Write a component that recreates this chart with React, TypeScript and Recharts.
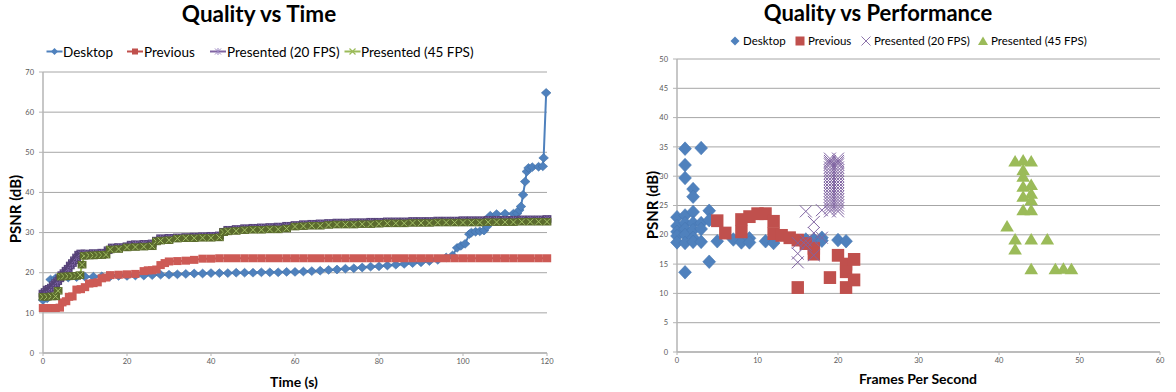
import React from 'react';
import { LineChart, Line, XAxis, YAxis, CartesianGrid, ScatterChart, Scatter } from 'recharts';

const FONT = 'Lato, "Open Sans", Arial, sans-serif';
const BLUE = '#4F81BD';
const RED = '#C0504D';
const PURPLE = '#8064A2';
const GREEN = '#9BBB59';
const TICK = '#595959';
const GRID = '#a6a6a6';
const AXIS = '#b4b4b4';

const seriesNames = ['Desktop', 'Previous', 'Presented (20 FPS)', 'Presented (45 FPS)'];

// ---- Quality vs Time ----
const timeTicks = [0, 20, 40, 60, 80, 100, 120];
const timePsnrTicks = [0, 10, 20, 30, 40, 50, 60, 70];

const desktopTime = [
  0, 1, 1.8, 3, 4, 6, 8, 10, 12, 14, 16, 18, 20, 22, 24, 26, 28, 30, 32, 34, 36, 38, 40, 42, 44,
  46, 48, 50, 52, 54, 56, 58, 60, 62, 64, 66, 68, 70, 72, 74, 76, 78, 80, 82, 84, 86, 88, 90, 92,
  94, 96, 97.5, 98.6, 99.5, 100.5, 101.5, 102, 103, 104, 105, 105.7, 106.5, 108, 110, 112, 112.9,
  113.4, 113.8, 114.3, 114.8, 115.2, 115.6, 116.5, 118, 119, 119.2, 119.8,
];
const desktopPsnr = [
  13.2, 13.6, 18.3, 18.6, 18.7, 18.8, 18.9, 19.0, 19.0, 19.1, 19.1, 19.2, 19.2, 19.3, 19.3, 19.4,
  19.5, 19.5, 19.6, 19.7, 19.8, 19.8, 19.9, 19.9, 19.9, 20.0, 20.0, 20.0, 20.1, 20.1, 20.1, 20.2,
  20.2, 20.3, 20.4, 20.5, 20.7, 20.8, 21.0, 21.1, 21.3, 21.5, 21.6, 21.8, 22.0, 22.2, 22.4, 22.6,
  22.9, 23.2, 23.8, 24.3, 26.2, 26.7, 27.2, 29.6, 30.0, 30.2, 30.3, 30.5, 31.5, 34.2, 34.6, 34.7,
  34.7, 34.8, 35.6, 36.5, 39.4, 42.7, 45.2, 46.1, 46.3, 46.4, 46.5, 48.6, 64.8,
];

const previousTime = [
  0, 1, 2, 3, 4, 4.6, 5.5, 6.2, 7, 8, 9, 10, 11, 12, 13, 14, 15, 16, 18, 20, 22, 24, 25, 26, 27,
  28, 29, 30, 32, 34, 36, 38, 40, 42, 44, 46, 48, 50, 52, 54, 56, 58, 60, 62, 64, 66, 68, 70, 72,
  74, 76, 78, 80, 82, 84, 86, 88, 90, 92, 94, 96, 98, 100, 102, 104, 106, 108, 110, 112, 114, 116,
  118, 120,
];
const previousPsnr = [
  11.2, 11.2, 11.2, 11.2, 11.3, 12.6, 12.9, 14.0, 14.1, 15.8, 15.9, 16.4, 17.3, 17.4, 17.6, 18.6,
  18.8, 19.4, 19.5, 19.6, 19.7, 20.4, 20.6, 20.6, 20.8, 21.9, 22.4, 22.8, 22.9, 23.0, 23.2, 23.5,
  23.5, 23.6, 23.6, 23.6, 23.6, 23.6, 23.6, 23.6, 23.6, 23.6, 23.6, 23.6, 23.6, 23.6, 23.6, 23.6,
  23.6, 23.6, 23.6, 23.6, 23.6, 23.6, 23.6, 23.6, 23.6, 23.6, 23.6, 23.6, 23.6, 23.6, 23.6, 23.6,
  23.6, 23.6, 23.6, 23.6, 23.6, 23.6, 23.6, 23.6, 23.6,
];

const fps20Time = [
  0, 0.5, 1, 1.5, 2, 2.5, 3, 3.5, 4, 4.5, 5, 5.5, 6, 6.5, 7, 7.5, 8, 8.5, 9, 10, 12, 14, 15.5, 16.5,
  18, 20, 21, 22, 24, 26, 27, 28, 30, 32, 34, 36, 38, 40, 42, 43, 44, 46, 48, 50, 52, 54, 56, 58,
  60, 62, 64, 66, 68, 70, 72, 74, 76, 78, 80, 82, 84, 86, 88, 90, 92, 94, 96, 98, 100, 102, 104,
  106, 108, 110, 112, 114, 116, 118, 120,
];
const fps20Psnr = [
  14.8, 15.2, 15.8, 16.0, 16.3, 16.9, 17.4, 17.9, 18.6, 19.4, 19.9, 20.5, 21.0, 21.8, 22.4, 23.1,
  23.8, 24.5, 24.8, 24.8, 24.9, 25.0, 25.6, 26.3, 26.4, 26.6, 27.0, 27.1, 27.2, 27.3, 28.0, 28.6,
  28.7, 28.8, 28.9, 29.0, 29.1, 29.2, 29.3, 30.2, 30.7, 30.9, 31.1, 31.2, 31.3, 31.4, 31.5, 31.7,
  31.9, 32.1, 32.2, 32.3, 32.4, 32.5, 32.5, 32.6, 32.6, 32.7, 32.7, 32.8, 32.8, 32.8, 32.9, 32.9,
  32.9, 33.0, 33.0, 33.0, 33.1, 33.1, 33.1, 33.2, 33.2, 33.2, 33.2, 33.3, 33.3, 33.3, 33.4,
];

const fps45Time = [
  0, 1, 2, 3, 3.6, 4.3, 5, 6, 7, 8, 8.8, 9.3, 9.8, 11, 12, 13, 14, 15, 16, 18, 20, 22, 24, 26, 27,
  28, 30, 32, 34, 36, 38, 40, 42, 43, 44, 46, 48, 50, 52, 54, 56, 58, 60, 62, 64, 66, 68, 70, 72,
  74, 76, 78, 80, 82, 84, 86, 88, 90, 92, 94, 96, 98, 100, 102, 104, 106, 108, 110, 112, 114, 116,
  118, 120,
];
const fps45Psnr = [
  14.0, 14.0, 14.1, 14.1, 15.5, 19.0, 19.1, 19.1, 19.2, 19.2, 19.4, 22.0, 24.2, 24.3, 24.3, 24.4,
  24.4, 24.5, 25.8, 25.9, 26.3, 26.4, 26.5, 26.6, 27.8, 28.0, 28.1, 28.5, 28.6, 28.6, 28.7, 28.7,
  28.8, 30.1, 30.3, 30.4, 30.6, 30.7, 30.7, 30.8, 30.8, 31.0, 31.5, 31.6, 31.7, 31.7, 31.9, 32.0,
  32.0, 32.0, 32.1, 32.1, 32.2, 32.3, 32.3, 32.3, 32.4, 32.4, 32.4, 32.5, 32.5, 32.5, 32.5, 32.5,
  32.5, 32.6, 32.6, 32.6, 32.6, 32.7, 32.7, 32.7, 32.7,
];

// ---- Quality vs Performance ----
const fpsTicks = [0, 10, 20, 30, 40, 50, 60];
const perfPsnrTicks = [0, 5, 10, 15, 20, 25, 30, 35, 40, 45, 50];

const desktopFps = [
  0, 0, 0, 0, 0, 1, 1, 1, 1, 1, 1, 1, 1, 1, 2, 2, 2, 2, 2, 2, 2, 3, 3, 3, 3, 4, 4, 4, 5, 7, 8, 9,
  9, 11, 12, 16, 17, 18, 18, 20, 21,
];
const desktopFpsPsnr = [
  23.0, 21.5, 20.5, 19.8, 18.7, 34.7, 31.9, 29.7, 23.3, 22.0, 21.0, 20.0, 18.6, 13.6, 27.8, 26.5,
  23.9, 22.0, 20.8, 19.5, 18.8, 34.8, 22.0, 21.0, 18.8, 24.1, 22.5, 15.4, 18.9, 19.2, 18.7, 19.4,
  18.7, 18.9, 18.6, 19.2, 19.2, 19.5, 19.0, 19.1, 18.9,
];

const previousFps = [5, 6, 8, 8, 9, 10, 11, 12, 12, 13, 14, 15, 15, 16, 17, 17, 19, 20, 21, 21, 21, 22, 22];
const previousFpsPsnr = [
  22.4, 20.3, 22.6, 20.5, 23.1, 23.6, 23.6, 22.3, 20.2, 19.9, 19.5, 19.1, 11.0, 18.5, 17.7, 16.7,
  12.7, 16.5, 15.0, 13.7, 11.0, 15.8, 12.3,
];

const fps20Fps = [
  19, 19, 19, 19, 19, 19, 19, 19, 19, 19, 19, 19, 19, 19, 19, 19, 19, 19, 19, 19,
  20, 20, 20, 20, 20, 20, 20, 20, 20, 20, 20, 20, 20, 20, 20, 20, 20, 20, 20, 20,
  15, 15, 15, 16, 16, 16, 17, 17, 17, 17, 18, 18,
];
const fps20FpsPsnr = [
  24, 24.5, 25, 25.5, 26, 26.5, 27, 27.5, 28, 28.5, 29, 29.5, 30, 30.5, 31, 31.5, 32, 32.3, 32.6, 33,
  24, 24.5, 25, 25.5, 26, 26.5, 27, 27.5, 28, 28.5, 29, 29.5, 30, 30.5, 31, 31.5, 32, 32.3, 32.6, 33,
  15.3, 16.8, 18.6, 24.0, 19.0, 18.3, 22.2, 20.3, 19.0, 16.5, 24.2, 19.5,
];

const fps45Fps = [42, 43, 44, 43, 43, 43, 44, 44, 43, 44, 43, 44, 41, 42, 42, 44, 46, 44, 47, 48, 49];
const fps45FpsPsnr = [
  32.5, 32.7, 32.5, 31.0, 29.9, 28.2, 28.5, 27.0, 26.5, 25.9, 24.2, 24.2, 21.4, 19.2, 17.5, 19.2,
  19.2, 14.1, 14.1, 14.2, 14.1,
];

const toPoints = (xs: number[], ys: number[]) => xs.map((x, i) => ({ x, y: ys[i] }));

const diamondPath = (cx: number, cy: number, rx: number, ry: number) =>
  `M${cx},${cy - ry}L${cx + rx},${cy}L${cx},${cy + ry}L${cx - rx},${cy}Z`;

// markers for the time chart
const timeDot = (kind: string) => (p: any) => {
  const { cx, cy, index } = p;
  const key = `${kind}-${index}`;
  if (cx == null || cy == null) return <g key={key} />;
  if (kind === 'desktop') {
    return <path key={key} d={diamondPath(cx, cy, 4.8, 4.4)} fill={BLUE} stroke="#3f6ea6" strokeWidth={0.6} />;
  }
  if (kind === 'previous') {
    return <rect key={key} x={cx - 4.2} y={cy - 4} width={8.4} height={8} fill="#cd5a55" />;
  }
  if (kind === 'fps20') {
    return (
      <g key={key}>
        <rect x={cx - 4.4} y={cy - 3.8} width={8.8} height={7.6} fill="#554277" />
        <path d={`M${cx - 3},${cy - 3}L${cx + 3},${cy + 3}M${cx - 3},${cy + 3}L${cx + 3},${cy - 3}M${cx},${cy - 3.5}L${cx},${cy + 3.5}`} stroke="#8b70b6" strokeWidth={0.8} />
      </g>
    );
  }
  return (
    <g key={key}>
      <rect x={cx - 4.4} y={cy - 3.8} width={8.8} height={7.6} fill="#5b6b2d" />
      <path d={`M${cx - 3},${cy - 3}L${cx + 3},${cy + 3}M${cx - 3},${cy + 3}L${cx + 3},${cy - 3}`} stroke="#a9c76c" strokeWidth={0.9} />
    </g>
  );
};

// markers for the scatter chart
const perfShape = (kind: string) => (p: any) => {
  const { cx, cy } = p;
  if (kind === 'desktop') return <path d={diamondPath(cx, cy, 6.4, 6.8)} fill={BLUE} stroke="#4677b2" strokeWidth={0.6} />;
  if (kind === 'previous') return <rect x={cx - 6.2} y={cy - 6.4} width={12.4} height={12.8} fill={RED} />;
  if (kind === 'fps20')
    return (
      <path d={`M${cx - 6},${cy - 6}L${cx + 6},${cy + 6}M${cx - 6},${cy + 6}L${cx + 6},${cy - 6}`} stroke={PURPLE} strokeWidth={1} fill="none" />
    );
  return <path d={`M${cx},${cy - 6.5}L${cx + 6.8},${cy + 5}L${cx - 6.8},${cy + 5}Z`} fill={GREEN} />;
};

const tickStyle = { fill: TICK, fontSize: 7.5, fontFamily: FONT };

const TimeChart = () => (
  <LineChart width={588} height={392} margin={{ top: 72, right: 41, left: 12, bottom: 19 }}>
    <CartesianGrid vertical={false} stroke={GRID} />
    <XAxis
      type="number"
      dataKey="x"
      domain={[0, 120]}
      ticks={timeTicks}
      height={20}
      tick={tickStyle}
      tickSize={3}
      tickMargin={3}
      axisLine={{ stroke: AXIS, strokeWidth: 1.5 }}
      tickLine={{ stroke: AXIS }}
    />
    <YAxis
      type="number"
      dataKey="y"
      domain={[0, 70]}
      ticks={timePsnrTicks}
      width={31}
      tick={tickStyle}
      tickSize={4}
      tickMargin={5}
      axisLine={{ stroke: AXIS, strokeWidth: 1.5 }}
      tickLine={{ stroke: AXIS }}
    />
    <Line data={toPoints(desktopTime, desktopPsnr)} dataKey="y" name={seriesNames[0]} stroke={BLUE} strokeWidth={2} dot={timeDot('desktop')} activeDot={false} isAnimationActive={false} />
    <Line data={toPoints(previousTime, previousPsnr)} dataKey="y" name={seriesNames[1]} stroke={RED} strokeWidth={2} dot={timeDot('previous')} activeDot={false} isAnimationActive={false} />
    <Line data={toPoints(fps20Time, fps20Psnr)} dataKey="y" name={seriesNames[2]} stroke={PURPLE} strokeWidth={2} dot={timeDot('fps20')} activeDot={false} isAnimationActive={false} />
    <Line data={toPoints(fps45Time, fps45Psnr)} dataKey="y" name={seriesNames[3]} stroke={GREEN} strokeWidth={2} dot={timeDot('fps45')} activeDot={false} isAnimationActive={false} />
  </LineChart>
);

const PerfChart = () => (
  <ScatterChart width={588} height={392} margin={{ top: 59, right: 16, left: 58, bottom: 20 }}>
    <CartesianGrid vertical={false} stroke={GRID} />
    <XAxis
      type="number"
      dataKey="x"
      domain={[0, 60]}
      ticks={fpsTicks}
      height={20}
      tick={tickStyle}
      tickSize={3}
      tickMargin={3}
      axisLine={{ stroke: AXIS, strokeWidth: 1.5 }}
      tickLine={{ stroke: AXIS }}
    />
    <YAxis
      type="number"
      dataKey="y"
      domain={[0, 50]}
      ticks={perfPsnrTicks}
      width={31}
      tick={tickStyle}
      tickSize={4}
      tickMargin={5}
      axisLine={{ stroke: AXIS, strokeWidth: 1.5 }}
      tickLine={{ stroke: AXIS }}
    />
    <Scatter data={toPoints(desktopFps, desktopFpsPsnr)} name={seriesNames[0]} shape={perfShape('desktop')} isAnimationActive={false} />
    <Scatter data={toPoints(previousFps, previousFpsPsnr)} name={seriesNames[1]} shape={perfShape('previous')} isAnimationActive={false} />
    <Scatter data={toPoints(fps20Fps, fps20FpsPsnr)} name={seriesNames[2]} shape={perfShape('fps20')} isAnimationActive={false} />
    <Scatter data={toPoints(fps45Fps, fps45FpsPsnr)} name={seriesNames[3]} shape={perfShape('fps45')} isAnimationActive={false} />
  </ScatterChart>
);

// legend icons
const lineIcon = (i: number, x: number, y: number) => {
  const colors = [BLUE, RED, PURPLE, GREEN];
  const c = colors[i];
  let mark;
  if (i === 0) mark = <path d={diamondPath(x, y, 3.5, 3.5)} fill={BLUE} />;
  else if (i === 1) mark = <rect x={x - 3} y={y - 3} width={6} height={6} fill={RED} />;
  else if (i === 2)
    mark = <path d={`M${x - 3},${y - 3}L${x + 3},${y + 3}M${x - 3},${y + 3}L${x + 3},${y - 3}M${x},${y - 3.5}L${x},${y + 3.5}`} stroke="#9b86c2" strokeWidth={1} />;
  else mark = <path d={`M${x - 3},${y - 3}L${x + 3},${y + 3}M${x - 3},${y + 3}L${x + 3},${y - 3}`} stroke={GREEN} strokeWidth={1.2} />;
  return (
    <g key={`li-${i}`}>
      <line x1={x - 8} x2={x + 8} y1={y} y2={y} stroke={c} strokeWidth={2} />
      {mark}
    </g>
  );
};

const markIcon = (i: number, x: number, y: number) => {
  if (i === 0) return <path key="mi0" d={diamondPath(x, y, 4.5, 4.5)} fill={BLUE} />;
  if (i === 1) return <rect key="mi1" x={x - 4.5} y={y - 4.5} width={9} height={9} fill={RED} />;
  if (i === 2)
    return <path key="mi2" d={`M${x - 4.5},${y - 4.5}L${x + 4.5},${y + 4.5}M${x - 4.5},${y + 4.5}L${x + 4.5},${y - 4.5}`} stroke={PURPLE} strokeWidth={0.9} />;
  return <path key="mi3" d={`M${x},${y - 4.5}L${x + 5},${y + 4}L${x - 5},${y + 4}Z`} fill={GREEN} />;
};

const leftLegendIcon = [54.5, 135, 218, 352.5];
const leftLegendText = [63, 144, 227, 361];
const rightLegendIcon = [735, 800, 866, 983];
const rightLegendText = [743, 808, 874, 991];

const Overlay = () => (
  <svg width={1176} height={392} style={{ position: 'absolute', left: 0, top: 0, pointerEvents: 'none' }}>
    <g fontFamily={FONT}>
      <text x={259} y={22} textAnchor="middle" fontSize={22.5} fontWeight={700} fill="#000">Quality vs Time</text>
      <text x={878} y={20.5} textAnchor="middle" fontSize={22} fontWeight={700} fill="#000">Quality vs Performance</text>

      {seriesNames.map((n, i) => lineIcon(i, leftLegendIcon[i], 51.5))}
      {seriesNames.map((n, i) => (
        <text key={`lt-${i}`} x={leftLegendText[i]} y={56.5} fontSize={13.5} fill="#000">{n}</text>
      ))}
      {seriesNames.map((n, i) => markIcon(i, rightLegendIcon[i], 41))}
      {seriesNames.map((n, i) => (
        <text key={`rt-${i}`} x={rightLegendText[i]} y={45} fontSize={11.5} fill="#000">{n}</text>
      ))}

      <text x={15} y={209} transform="rotate(-90 15 209)" textAnchor="middle" dominantBaseline="central" fontSize={15} fontWeight={700}>PSNR (dB)</text>
      <text x={294} y={381} textAnchor="middle" dominantBaseline="central" fontSize={14} fontWeight={700}>Time (s)</text>
      <text x={652} y={205} transform="rotate(-90 652 205)" textAnchor="middle" dominantBaseline="central" fontSize={15} fontWeight={700}>PSNR (dB)</text>
      <text x={918} y={378} textAnchor="middle" dominantBaseline="central" fontSize={14} fontWeight={700}>Frames Per Second</text>
    </g>
  </svg>
);

export default function App() {
  return (
    <div style={{ position: 'absolute', left: 0, top: 0, width: 1176, height: 392, background: '#fff', fontFamily: FONT }}>
      <div style={{ position: 'absolute', left: 0, top: 0 }}>
        <TimeChart />
      </div>
      <div style={{ position: 'absolute', left: 588, top: 0 }}>
        <PerfChart />
      </div>
      <Overlay />
    </div>
  );
}
